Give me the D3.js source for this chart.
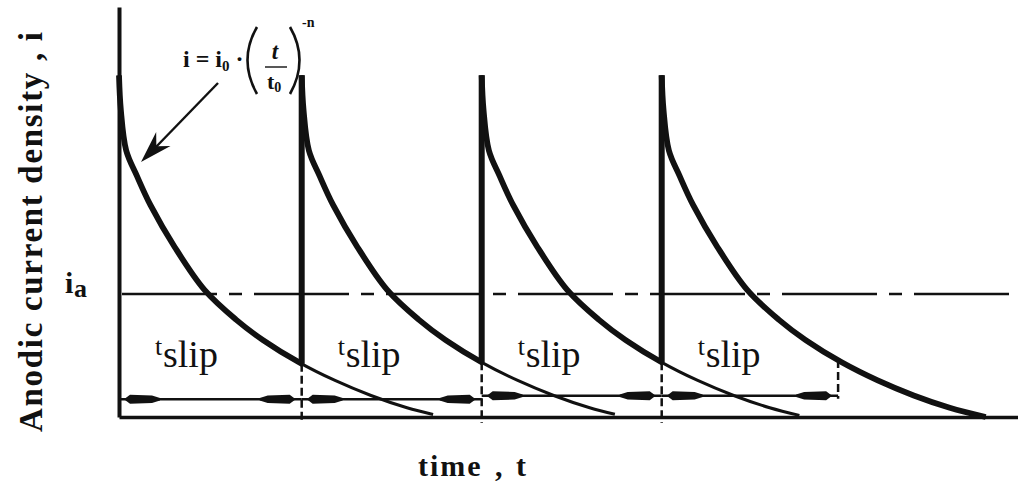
<!DOCTYPE html>
<html>
<head>
<meta charset="utf-8">
<script src="https://cdn.jsdelivr.net/npm/d3@7"></script>
<style>
  html, body { margin: 0; padding: 0; background: #fff; }
  svg { display: block; }
</style>
</head>
<body>
<svg id="chart" width="1018" height="482"></svg>
<script>
// Slip–dissolution–repassivation current transients.
// Film rupture events (time units) where the current jumps back to the peak.
const spikeTimes = [0, 2.03, 4.03, 6.03];
// How long each decaying trace is followed after its rupture.
const cycleEnds = [3.49, 3.48, 3.53, 3.6];
// Shape of one decay transient: time since rupture and current density.
const decayT = [0, 0.02, 0.08, 0.2, 0.35, 0.62, 0.95, 1.3, 1.6, 2.0, 2.4, 2.8, 3.2, 3.6];
const decayI = [10, 9.0, 7.8, 7.05, 6.2, 4.97, 3.72, 2.85, 2.25, 1.6, 1.07, 0.63, 0.27, 0];
// Ends of the four t_slip intervals (each starts at a rupture).
const slipEnds = [2.03, 4.03, 6.03, 7.99];
// Average anodic current density level.
const iA = 3.6;
const iPeak = 10;

const ink = "#111";
const serif = "'Liberation Serif', 'Times New Roman', serif";

const svg = d3.select("#chart");
const x = d3.scaleLinear().domain([0, 10]).range([119, 1019]);
const y = d3.scaleLinear().domain([0, 12]).range([417, 7]);
const decay = d3.scaleLinear().domain(decayT).range(decayI).clamp(true);

// axes: plain lines, no ticks
const xAxis = svg.append("g")
  .attr("transform", `translate(0,${y(0)})`)
  .call(d3.axisBottom(x).tickValues([]).tickSizeOuter(0));
const yAxis = svg.append("g")
  .attr("transform", `translate(${x(0)},0)`)
  .call(d3.axisLeft(y).tickValues([]).tickSizeOuter(0));
xAxis.select(".domain").attr("stroke", ink).attr("stroke-width", 3.5);
yAxis.select(".domain").attr("stroke", ink).attr("stroke-width", 4);

// i_a level, dash-dot
svg.append("line")
  .attr("x1", x(0) + 3).attr("x2", x(9.93))
  .attr("y1", y(iA)).attr("y2", y(iA))
  .attr("stroke", ink).attr("stroke-width", 2.6)
  .attr("stroke-dasharray", "95,12,13,12");

// decaying transients
const defs = svg.append("defs");
const line = d3.line().curve(d3.curveCatmullRom.alpha(0.5));
spikeTimes.forEach((t0, k) => {
  const end = cycleEnds[k];
  const pts = decayT.filter(d => d < end).map(d => [d, decay(d)]);
  pts.push([end, decay(end)]);
  const path = line(pts.map(p => [x(t0 + p[0]), y(p[1])]));
  // thin tail after the next rupture
  svg.append("path").attr("d", path)
    .attr("fill", "none").attr("stroke", ink).attr("stroke-width", 3);
  const thickEnd = k < spikeTimes.length - 1 ? x(spikeTimes[k + 1]) : x(t0 + end) + 5;
  defs.append("clipPath").attr("id", "thick" + k)
    .append("rect").attr("x", x(t0) - 6).attr("y", 0)
    .attr("width", thickEnd - x(t0) + 6).attr("height", 482);
  svg.append("path").attr("d", path)
    .attr("clip-path", `url(#thick${k})`)
    .attr("fill", "none").attr("stroke", ink).attr("stroke-width", 5.8);
});

// rupture spikes
spikeTimes.forEach((t0, k) => {
  if (k === 0) return;
  const low = decay(t0 - spikeTimes[k - 1]);
  svg.append("line")
    .attr("x1", x(t0)).attr("x2", x(t0))
    .attr("y1", y(iPeak)).attr("y2", y(low))
    .attr("stroke", ink).attr("stroke-width", 6);
});

// t_slip arrows
const arrowLevels = [0.52, 0.52, 0.62, 0.62];
function head(tx, ty, dir) {
  return `M${tx},${ty} L${tx + dir * 6},${ty - 4.5} L${tx + dir * 28},${ty - 3.8} ` +
         `L${tx + dir * 36},${ty - 1.3} L${tx + dir * 36},${ty + 1.3} ` +
         `L${tx + dir * 28},${ty + 3.8} L${tx + dir * 6},${ty + 4.5} Z`;
}
slipEnds.forEach((s, k) => {
  const a = x(spikeTimes[k]), b = x(s), ay = y(arrowLevels[k]);
  svg.append("line").attr("x1", a).attr("x2", b).attr("y1", ay).attr("y2", ay)
    .attr("stroke", ink).attr("stroke-width", 2.4);
  svg.append("path").attr("d", head(a + 5, ay, 1)).attr("fill", ink);
  svg.append("path").attr("d", head(b - 6, ay, -1)).attr("fill", ink);
  // dashed marker at the end of the interval
  const top = y(decay(s - spikeTimes[k]));
  const bottom = k < slipEnds.length - 1 ? y(0) + 6 : ay + 3;
  svg.append("line").attr("x1", b).attr("x2", b).attr("y1", top).attr("y2", bottom)
    .attr("stroke", ink).attr("stroke-width", 2.5).attr("stroke-dasharray", "8,4");
  // label
  const lx = x(spikeTimes[k]) + 36;
  const lab = svg.append("text").attr("font-family", serif).attr("fill", ink);
  lab.append("tspan").attr("x", lx).attr("y", 355).attr("font-size", 26).text("t");
  lab.append("tspan").attr("x", lx + 8).attr("y", 367).attr("font-size", 38).text("slip");
});

// i_a label
const ia = svg.append("text").attr("font-family", serif).attr("font-weight", "bold").attr("fill", ink);
ia.append("tspan").attr("x", 65).attr("y", 293).attr("font-size", 30).text("i");
ia.append("tspan").attr("x", 74).attr("y", 297).attr("font-size", 26).text("a");

// axis titles
svg.append("text")
  .attr("transform", "translate(42,232) rotate(-90)")
  .attr("text-anchor", "middle")
  .attr("font-family", serif).attr("font-weight", "bold").attr("font-size", 33)
  .attr("textLength", 400).attr("lengthAdjust", "spacing")
  .attr("fill", ink)
  .text("Anodic current density , i");
const xt = svg.append("text")
  .attr("y", 476)
  .attr("font-family", serif).attr("font-weight", "bold").attr("font-size", 30)
  .attr("fill", ink);
xt.append("tspan").attr("x", 418).attr("letter-spacing", 2).text("time");
xt.append("tspan").attr("x", 495).text(",");
xt.append("tspan").attr("x", 516).text("t");

// power-law annotation
const f = svg.append("g").attr("fill", ink).attr("font-family", serif).attr("font-weight", "bold");
const ft = f.append("text").attr("x", 183).attr("y", 67).attr("font-size", 24);
ft.append("tspan").text("i = i");
ft.append("tspan").attr("font-size", 15).attr("dy", 4).text("0");
ft.append("tspan").attr("dy", -4).text(" ·");
f.append("path").attr("d", "M257,27 Q238,60 257,94").attr("fill", "none").attr("stroke", ink).attr("stroke-width", 2.6);
f.append("path").attr("d", "M290,27 Q309,60 290,94").attr("fill", "none").attr("stroke", ink).attr("stroke-width", 2.6);
f.append("text").attr("x", 275).attr("y", 59).attr("font-size", 23).attr("font-style", "italic").attr("text-anchor", "middle").text("t");
f.append("line").attr("x1", 265).attr("x2", 287).attr("y1", 67).attr("y2", 67).attr("stroke", ink).attr("stroke-width", 1.4);
const den = f.append("text").attr("x", 267).attr("y", 89).attr("font-size", 22);
den.append("tspan").text("t");
den.append("tspan").attr("font-size", 14).attr("dy", 3).text("0");
f.append("text").attr("x", 302).attr("y", 27).attr("font-size", 14).text("-n");

// pointer from the formula to the first transient
const p0 = [218, 83], p1 = [141, 162];
const ang = Math.atan2(p1[1] - p0[1], p1[0] - p0[0]) * 180 / Math.PI;
svg.append("line").attr("x1", p0[0]).attr("y1", p0[1]).attr("x2", p1[0] + 14).attr("y2", p1[1] - 14)
  .attr("stroke", ink).attr("stroke-width", 2.4);
svg.append("path")
  .attr("transform", `translate(${p1[0]},${p1[1]}) rotate(${ang})`)
  .attr("d", "M0,0 L-32,-10 L-22,0 L-32,10 Z")
  .attr("fill", ink);
</script>
</body>
</html>
